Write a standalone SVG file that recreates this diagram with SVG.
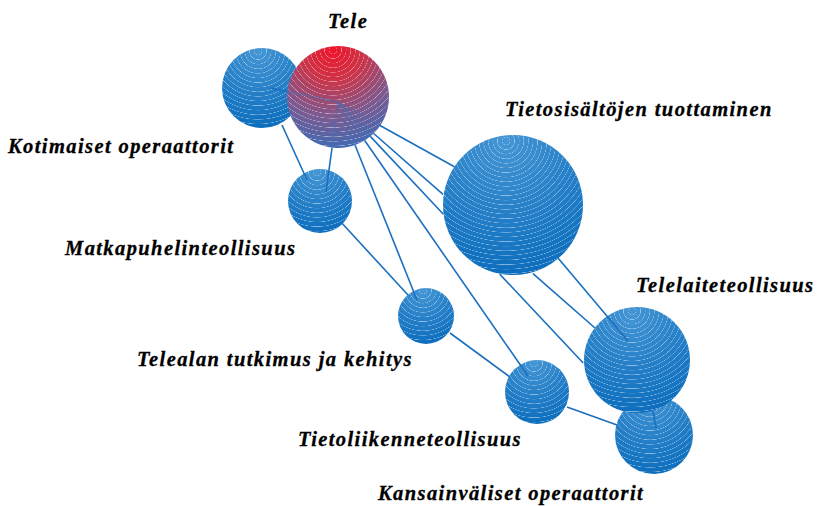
<svg xmlns="http://www.w3.org/2000/svg" xmlns:xlink="http://www.w3.org/1999/xlink" width="818" height="506" viewBox="0 0 818 506">
<style>
.lbl{font-family:"Liberation Serif","Times New Roman",serif;font-weight:bold;font-style:italic;font-size:20.5px;letter-spacing:1.4px;fill:#000;stroke:#000;stroke-width:0.3}
.edge{fill:none;stroke:#1a6fbf;stroke-width:1.6}
.edge-in{fill:none;stroke:#3f6fb8;stroke-width:1.4;stroke-opacity:0.55}
.rings{opacity:0.85}
</style>
<defs>
<radialGradient id="gBlue" cx="0.45" cy="0.05" r="1" fx="0.45" fy="0.05">
<stop offset="0" stop-color="#4596d4"/>
<stop offset="0.5" stop-color="#2680c8"/>
<stop offset="1" stop-color="#0a6cbc"/>
</radialGradient>
<radialGradient id="gTele" cx="0.45" cy="0.04" r="1" fx="0.45" fy="0.04">
<stop offset="0" stop-color="#f0142a"/>
<stop offset="0.3" stop-color="#cc3448"/>
<stop offset="0.65" stop-color="#7d5a90"/>
<stop offset="1" stop-color="#3a6bb6"/>
</radialGradient>
<radialGradient id="ring" spreadMethod="repeat" gradientUnits="userSpaceOnUse" r="4.6">
<stop offset="0" stop-color="#fff" stop-opacity="0"/>
<stop offset="0.76" stop-color="#fff" stop-opacity="0"/>
<stop offset="0.86" stop-color="#fff" stop-opacity="0.6"/>
<stop offset="0.96" stop-color="#fff" stop-opacity="0"/>
<stop offset="1" stop-color="#fff" stop-opacity="0"/>
</radialGradient>
<radialGradient id="rK" href="#ring" xlink:href="#ring" cx="258" cy="51" fx="258" fy="51"/>
<radialGradient id="rT" href="#ring" xlink:href="#ring" cx="333" cy="50" fx="333" fy="50"/>
<radialGradient id="rM" href="#ring" xlink:href="#ring" cx="317" cy="172" fx="317" fy="172"/>
<radialGradient id="rS" href="#ring" xlink:href="#ring" cx="506" cy="141" fx="506" fy="141"/>
<radialGradient id="rR" href="#ring" xlink:href="#ring" cx="423" cy="290" fx="423" fy="290"/>
<radialGradient id="rA" href="#ring" xlink:href="#ring" cx="632" cy="311" fx="632" fy="311"/>
<radialGradient id="rL" href="#ring" xlink:href="#ring" cx="534" cy="363" fx="534" fy="363"/>
<radialGradient id="rI" href="#ring" xlink:href="#ring" cx="650" cy="399" fx="650" fy="399"/>
</defs>
<rect width="818" height="506" fill="#fff"/>

<g id="n-kotimaiset">
<circle cx="262" cy="88" r="40" fill="url(#gBlue)"/>
<circle class="rings" cx="262" cy="88" r="40" fill="url(#rK)"/>
</g>
<g id="n-tele">
<circle cx="338" cy="97" r="51" fill="url(#gTele)"/>
<circle class="rings" cx="338" cy="97" r="51" fill="url(#rT)"/>
</g>
<g id="n-matkapuhelin">
<circle cx="320" cy="201" r="32" fill="url(#gBlue)"/>
<circle class="rings" cx="320" cy="201" r="32" fill="url(#rM)"/>
</g>
<g id="n-tietosisallot">
<circle cx="513" cy="205" r="70" fill="url(#gBlue)"/>
<circle class="rings" cx="513" cy="205" r="70" fill="url(#rS)"/>
</g>
<g id="n-telealan">
<circle cx="426" cy="316" r="28" fill="url(#gBlue)"/>
<circle class="rings" cx="426" cy="316" r="28" fill="url(#rR)"/>
</g>
<g id="n-tietoliikenne">
<circle cx="537" cy="392" r="32" fill="url(#gBlue)"/>
<circle class="rings" cx="537" cy="392" r="32" fill="url(#rL)"/>
</g>
<g id="n-kansainvaliset">
<circle cx="654" cy="435" r="39" fill="url(#gBlue)"/>
<circle class="rings" cx="654" cy="435" r="39" fill="url(#rI)"/>
</g>
<g id="n-telelaite">
<circle cx="637" cy="360" r="53" fill="url(#gBlue)"/>
<circle class="rings" cx="637" cy="360" r="53" fill="url(#rA)"/>
</g>

<g id="connectors">
<path class="edge-in" d="M287,91.5 L338,102 M332,148 L338,102 M380,125.5 L338,102 M355,145 L338,102 M364.7,140.5 L338,102 M373.7,133.5 L338,102 M370.3,136.4 L338,102"/>
<path class="edge" d="M270,88 L287,91.5"/>
<path class="edge" d="M282,125 L307,180"/>
<path class="edge" d="M332,148 L326,192"/>
<path class="edge" d="M380,125.5 L454.4,166.7"/>
<path class="edge" d="M355,145 L417,300"/>
<path class="edge" d="M364.7,140.5 L528,376"/>
<path class="edge" d="M373.7,133.5 L443,194.4 M533,273.6 L595,328"/>
<path class="edge" d="M370.3,136.4 L443.4,214.2 M499.7,274.1 L583.2,363"/>
<path class="edge" d="M342.5,223.8 L408,295"/>
<path class="edge" d="M450,333 L510,377"/>
<path class="edge" d="M558,258 L628,341"/>
<path class="edge" d="M567,407 L617,425"/>
<path class="edge" d="M653,410.5 L656,428"/>
</g>

<g id="labels">
<text class="lbl" x="328" y="28">Tele</text>
<text class="lbl" x="8" y="153">Kotimaiset operaattorit</text>
<text class="lbl" x="505" y="116">Tietosisältöjen tuottaminen</text>
<text class="lbl" x="65" y="255">Matkapuhelinteollisuus</text>
<text class="lbl" x="636" y="292">Telelaiteteollisuus</text>
<text class="lbl" x="137" y="366">Telealan tutkimus ja kehitys</text>
<text class="lbl" x="298" y="446">Tietoliikenneteollisuus</text>
<text class="lbl" x="378" y="500">Kansainväliset operaattorit</text>
</g>
</svg>
